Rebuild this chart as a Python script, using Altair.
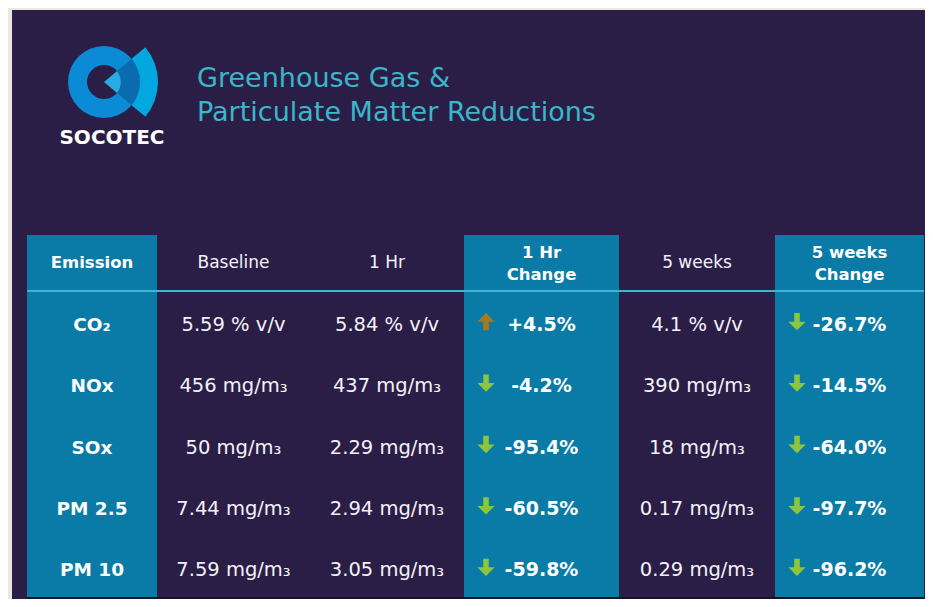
import math
import altair as alt
import pandas as pd

# ---------------- data ----------------
EMISSIONS = ["CO₂", "NOx", "SOx", "PM 2.5", "PM 10"]
UNITS = ["% v/v", "mg/m₃", "mg/m₃", "mg/m₃", "mg/m₃"]
BASELINE = [5.59, 456, 50, 7.44, 7.59]
HR1 = [5.84, 437, 2.29, 2.94, 3.05]
HR1_CHANGE = [4.5, -4.2, -95.4, -60.5, -59.8]
WK5 = [4.1, 390, 18, 0.17, 0.29]
WK5_CHANGE = [-26.7, -14.5, -64.0, -97.7, -96.2]
HEADERS = ["Emission", "Baseline", "1 Hr", "1 Hr\nChange", "5 weeks", "5 weeks\nChange"]
TITLE_LINES = ["Greenhouse Gas &", "Particulate Matter Reductions"]
BRAND = "SOCOTEC"

# ---------------- layout / style ----------------
W, H = 917, 591
COL_W = [130, 153, 154, 155, 156, 149]
HEADER_H = 56
ROW_H = 61.4
TABLE_X = 19
TABLE_Y = 227
TABLE_W = sum(COL_W)
TABLE_H = HEADER_H + ROW_H * len(EMISSIONS)
TEAL_COLS = [0, 3, 5]
BOLD_COLS = [0, 3, 5]
VALUE_COLS = {1: BASELINE, 2: HR1, 4: WK5}
CHANGE_COLS = {3: HR1_CHANGE, 5: WK5_CHANGE}
ARROW_INSET = 22

BG_PAGE = "#ebe8e2"
BG_DARK = "#2a1e46"
TEAL = "#0a7ba6"
LINE = "#3db5d1"
TITLE_C = "#3bb6ca"
UP_C = "#a97a1c"
DOWN_C = "#8cc63f"
TXT = "#f4f2f8"
FONT = "DejaVu Sans"

UP_PATH = "M-0.32,1 L0.32,1 L0.32,0 L1,0 L0,-1 L-1,0 L-0.32,0 Z"
DOWN_PATH = "M-0.32,-1 L0.32,-1 L0.32,0 L1,0 L0,1 L-1,0 L-0.32,0 Z"

edges = [0]
for w in COL_W:
    edges.append(edges[-1] + w)


def col_center(i):
    return (edges[i] + edges[i + 1]) / 2


def row_center(r):
    return HEADER_H + ROW_H * (r + 0.5)


def fmt(v):
    return f"{v:g}"


xs = alt.Scale(domain=[0, TABLE_W], range=[TABLE_X, TABLE_X + TABLE_W], nice=False, zero=False)
ys = alt.Scale(domain=[0, TABLE_H], range=[TABLE_Y, TABLE_Y + TABLE_H], nice=False, zero=False)

one = pd.DataFrame({"k": [0]})

# ---------------- background ----------------
bg = alt.Chart(one).mark_rect(color=BG_DARK).encode(
    x=alt.value(4), x2=alt.value(W), y=alt.value(2), y2=alt.value(H)
)

# ---------------- logo ----------------
LX, LY = 96, 74
ring = alt.Chart(one).mark_arc(color="#0b8bd6", radius=36, radius2=17, theta=0, theta2=2 * math.pi).encode(
    x=alt.value(LX), y=alt.value(LY)
)
t0, t1 = math.radians(50), math.radians(130)
sec_in = alt.Chart(one).mark_arc(color="#2aaae2", radius=17, radius2=0, theta=t0, theta2=t1).encode(
    x=alt.value(LX), y=alt.value(LY)
)
sec_mid = alt.Chart(one).mark_arc(color="#0a6cae", radius=36, radius2=17, theta=t0, theta2=t1).encode(
    x=alt.value(LX), y=alt.value(LY)
)
sec_out = alt.Chart(one).mark_arc(color="#03a7e0", radius=54, radius2=36, theta=t0, theta2=t1).encode(
    x=alt.value(LX), y=alt.value(LY)
)
brand = alt.Chart(one).mark_text(
    text=BRAND, font=FONT, fontSize=20, fontWeight="bold", color="#ffffff", align="center", baseline="middle"
).encode(x=alt.value(104), y=alt.value(130))

title1 = alt.Chart(one).mark_text(
    text=TITLE_LINES[0], font=FONT, fontSize=27, color=TITLE_C, align="left", baseline="middle"
).encode(x=alt.value(189), y=alt.value(71))
title2 = alt.Chart(one).mark_text(
    text=TITLE_LINES[1], font=FONT, fontSize=27, color=TITLE_C, align="left", baseline="middle"
).encode(x=alt.value(189), y=alt.value(105))

# ---------------- table ----------------
teal_df = pd.DataFrame({
    "x0": [edges[c] for c in TEAL_COLS],
    "x1": [edges[c + 1] for c in TEAL_COLS],
    "y0": [0] * len(TEAL_COLS),
    "y1": [TABLE_H] * len(TEAL_COLS),
})
teal = alt.Chart(teal_df).mark_rect(color=TEAL).encode(
    x=alt.X("x0:Q", scale=xs, axis=None), x2="x1:Q",
    y=alt.Y("y0:Q", scale=ys, axis=None), y2="y1:Q",
)

line_df = pd.DataFrame({"x0": [0], "x1": [TABLE_W], "y": [HEADER_H], "yb": [TABLE_H]})
hline = alt.Chart(line_df).mark_rule(color=LINE, strokeWidth=2).encode(
    x=alt.X("x0:Q", scale=xs, axis=None), x2="x1:Q", y=alt.Y("y:Q", scale=ys, axis=None)
)
bline = alt.Chart(line_df).mark_rule(color="#17122b", strokeWidth=2).encode(
    x=alt.X("x0:Q", scale=xs, axis=None), x2="x1:Q", y=alt.Y("yb:Q", scale=ys, axis=None)
)

head_df = pd.DataFrame({
    "x": [col_center(i) for i in range(len(HEADERS))],
    "y": [HEADER_H / 2] * len(HEADERS),
    "t": HEADERS,
    "bold": [i in BOLD_COLS for i in range(len(HEADERS))],
    "multi": ["\n" in h for h in HEADERS],
})
head_b1 = alt.Chart(head_df[head_df.bold & ~head_df.multi]).mark_text(
    font=FONT, fontSize=16.5, fontWeight="bold", color="#ffffff", align="center", baseline="middle"
).encode(x=alt.X("x:Q", scale=xs, axis=None), y=alt.Y("y:Q", scale=ys, axis=None), text="t:N")
head_b2 = alt.Chart(head_df[head_df.bold & head_df.multi]).mark_text(
    font=FONT, fontSize=16.5, fontWeight="bold", color="#ffffff", align="center", baseline="middle",
    lineBreak="\n", lineHeight=22, dy=-10
).encode(x=alt.X("x:Q", scale=xs, axis=None), y=alt.Y("y:Q", scale=ys, axis=None), text="t:N")
head_n = alt.Chart(head_df[~head_df.bold]).mark_text(
    font=FONT, fontSize=17, color=TXT, align="center", baseline="middle"
).encode(x=alt.X("x:Q", scale=xs, axis=None), y=alt.Y("y:Q", scale=ys, axis=None), text="t:N")

em_df = pd.DataFrame({
    "x": [col_center(0)] * len(EMISSIONS),
    "y": [row_center(r) for r in range(len(EMISSIONS))],
    "t": EMISSIONS,
})
em = alt.Chart(em_df).mark_text(
    font=FONT, fontSize=18.5, fontWeight="bold", color="#ffffff", align="center", baseline="middle", dy=3
).encode(x=alt.X("x:Q", scale=xs, axis=None), y=alt.Y("y:Q", scale=ys, axis=None), text="t:N")

val_rows = []
for c, vals in VALUE_COLS.items():
    for r, v in enumerate(vals):
        val_rows.append({"x": col_center(c), "y": row_center(r), "t": f"{fmt(v)} {UNITS[r]}"})
val_df = pd.DataFrame(val_rows)
vals_layer = alt.Chart(val_df).mark_text(
    font=FONT, fontSize=19.5, color=TXT, align="center", baseline="middle", dy=3
).encode(x=alt.X("x:Q", scale=xs, axis=None), y=alt.Y("y:Q", scale=ys, axis=None), text="t:N")

ch_rows = []
for c, vals in CHANGE_COLS.items():
    for r, v in enumerate(vals):
        ch_rows.append({
            "x": col_center(c), "y": row_center(r), "t": f"{v:+.1f}%",
            "ax": edges[c] + ARROW_INSET, "dir": "up" if v > 0 else "down",
        })
ch_df = pd.DataFrame(ch_rows)
ch_layer = alt.Chart(ch_df).mark_text(
    font=FONT, fontSize=19, fontWeight="bold", color="#ffffff", align="center", baseline="middle", dy=3
).encode(x=alt.X("x:Q", scale=xs, axis=None), y=alt.Y("y:Q", scale=ys, axis=None), text="t:N")
arrows = alt.Chart(ch_df).mark_point(filled=True, opacity=1, size=300, strokeWidth=0, dy=-4).encode(
    x=alt.X("ax:Q", scale=xs, axis=None),
    y=alt.Y("y:Q", scale=ys, axis=None),
    shape=alt.Shape("dir:N", scale=alt.Scale(domain=["up", "down"], range=[UP_PATH, DOWN_PATH]), legend=None),
    color=alt.Color("dir:N", scale=alt.Scale(domain=["up", "down"], range=[UP_C, DOWN_C]), legend=None),
)

chart = alt.layer(
    bg, ring, sec_in, sec_mid, sec_out, brand, title1, title2,
    teal, hline, bline, head_b1, head_b2, head_n, em, vals_layer, ch_layer, arrows,
).properties(
    width=W, height=H, padding=0, autosize=alt.AutoSizeParams(type="none"), background=BG_PAGE
).configure_view(stroke=None)

chart.save("out.html", embed_options={"renderer": "svg", "actions": False})
